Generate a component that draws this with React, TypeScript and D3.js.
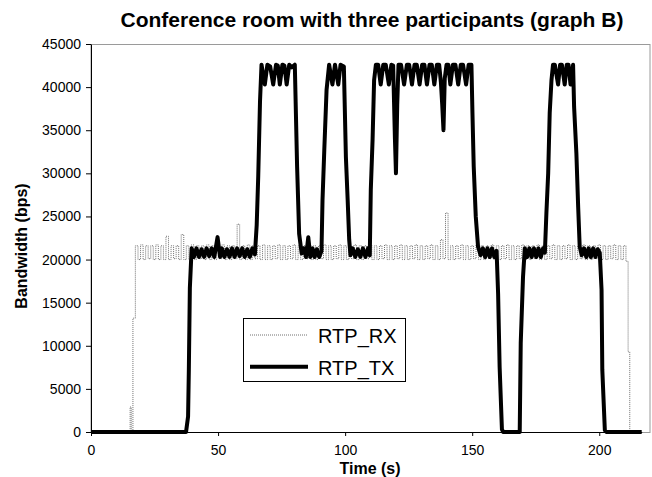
import React, { useEffect, useRef } from 'react';
import * as d3 from 'd3';

const W = 652;
const H = 477;

// RTP_TX samples: [time (s), bandwidth (bps)]
const txPoints: [number, number][] = [
  [0, 0], [37.4, 0], [38.2, 1800], [38.5, 7200], [38.9, 16700], [39.6, 21300],
  [40.5, 20300], [41.5, 21300], [42.5, 20300], [43.5, 21200], [44.5, 20300], [45.5, 21300],
  [46.5, 20400], [47.5, 21300], [48.5, 20300], [49.8, 22600], [50.8, 20300], [51.5, 21300],
  [52.5, 20300], [53.5, 21200], [54.5, 20300], [55.5, 21300], [56.5, 20300], [57.5, 21300],
  [58.5, 20400], [59.5, 21300], [60.5, 20300], [61.5, 21200], [62.5, 20300], [63.5, 21300],
  [64.5, 20600], [65.2, 24000], [65.8, 29600], [66.5, 38300], [67.1, 42600],
  [68.4, 40300], [69.4, 42600], [70.5, 42400], [71.7, 40300], [72.8, 42600], [73.5, 42500],
  [74.3, 40300], [75.3, 42600], [76.1, 42500], [77.0, 40300], [78.0, 42600], [79.0, 42300],
  [80.2, 42600], [81.1, 30800], [81.9, 23000], [82.9, 20700],
  [83.8, 21300], [84.6, 20300], [85.5, 22600], [86.3, 20300], [87.2, 21300], [88.0, 20300],
  [88.9, 21200], [89.8, 20300], [90.7, 21000],
  [91.1, 26900], [91.8, 32700], [92.7, 39700], [93.7, 42600],
  [95.0, 40300], [96.0, 42600], [97.3, 40300], [98.2, 42600], [99.5, 42400],
  [100.3, 31900], [101.0, 26900], [101.6, 22300], [102.1, 20500],
  [103, 21300], [104, 20300], [105, 21200], [106, 20300], [107, 21300], [108, 20300],
  [109, 21300], [109.7, 20500],
  [110.1, 28100], [110.8, 33900], [111.4, 40800], [112.1, 42600],
  [113.0, 42600], [114.0, 40300], [115.0, 42600], [116.0, 42600], [117.2, 40300], [118.2, 42600],
  [118.9, 42500], [119.6, 34000], [120.0, 30000], [120.5, 38000], [121.0, 42600], [122.0, 42600],
  [123.2, 40300], [124.3, 42600], [125.2, 42600], [126.3, 40300], [127.3, 42600], [128.2, 42600],
  [129.3, 40300], [130.3, 42600], [131.2, 42600], [132.2, 40300], [133.2, 42600], [134.1, 42600],
  [135.1, 40300], [136.1, 42600], [137.0, 42600], [137.7, 40500], [138.2, 38000], [138.7, 35000],
  [139.2, 41000], [139.9, 42600], [140.6, 42600], [141.4, 40300], [142.4, 42600], [143.4, 42600],
  [144.5, 40300], [145.5, 42600], [146.4, 42600], [147.6, 40300], [148.6, 42600], [149.7, 42600],
  [150.1, 37000], [150.6, 30800], [151.4, 25000], [152.3, 21500], [153.3, 20500],
  [154.2, 21300], [155.1, 20300], [156.0, 21300], [156.9, 20300], [157.8, 21300], [158.7, 20300],
  [159.6, 21000], [160.2, 16000], [160.8, 7500], [161.7, 300], [162.2, 0],
  [168.7, 0], [169.1, 10300], [170.0, 18000], [170.7, 21300],
  [171.6, 20300], [172.5, 21300], [173.4, 20300], [174.3, 21300], [175.2, 20300], [176.1, 21300],
  [177.0, 20300], [177.9, 21300], [178.6, 20800],
  [179.2, 25400], [179.9, 30000], [180.5, 37000], [181.2, 40800], [181.8, 42600],
  [182.5, 42600], [183.8, 40300], [184.6, 42600], [185.3, 42600], [186.4, 40300], [187.2, 42600],
  [187.9, 42600], [188.7, 40300], [189.7, 42600],
  [190.1, 37700], [191.0, 32300], [191.7, 26100], [192.3, 21500], [193.1, 20500],
  [194.0, 21300], [194.9, 20300], [195.8, 21300], [196.7, 20300], [197.6, 21300], [198.5, 20300],
  [199.4, 21200], [200.2, 20800],
  [200.9, 16500], [201.2, 7200], [202.2, 200], [202.8, 0], [216.7, 0],
];

// RTP_RX: ramp-up before the 1 s samples start
const rxHead: [number, number][] = [
  [0, 0], [15.2, 0], [15.6, 2900], [16.1, 0], [16.9, 13200],
];

// RTP_RX one sample per second, from t = 18 s
const rxBandStart = 18;
const rxBand: number[] = [
  21600, 20000, 21700, 20000, 21600, 20100, 21600, 20000, 21700, 20000,
  21600, 20000, 22700, 20000, 21600, 20100, 21600, 20000, 22900, 20000,
  21600, 20000, 21700, 20000, 21600, 20100, 21600, 20000, 21700, 20000,
  21600, 20000, 21600, 20100, 21700, 20000, 21600, 20000, 21600, 20100,
  24100, 20000, 21600, 20000, 21700, 20000, 21600, 20100, 21600, 20000,
  21700, 20000, 21600, 20000, 21600, 20100, 21700, 20000, 21600, 20000,
  21600, 20100, 21700, 20000, 21600, 20000, 21600, 20100, 21700, 20000,
  21600, 20000, 21600, 20100, 21700, 20000, 21600, 20000, 21600, 20100,
  21700, 20000, 21600, 20000, 21600, 20100, 21700, 20000, 21600, 20000,
  21600, 20100, 21700, 20000, 21600, 20000, 21600, 20100, 21700, 20000,
  21600, 20000, 21600, 20100, 21700, 20000, 21600, 20000, 21600, 20100,
  21700, 20000, 21600, 20000, 21600, 20100, 21700, 20000, 21600, 20000,
  22300, 20100, 25400, 20000, 21600, 20000, 21600, 20100, 21700, 20000,
  21600, 20000, 21600, 20100, 21700, 20000, 21600, 20000, 21600, 20100,
  21700, 20000, 21600, 20000, 21600, 20100, 21700, 20000, 21600, 20000,
  21600, 20100, 21700, 20000, 21600, 20000, 21600, 20100, 21700, 20000,
  21600, 20000, 21600, 20100, 21700, 20000, 21600, 20000, 21600, 20100,
  21700, 20000, 21600, 20000, 21600, 20100, 21700, 20000, 21600, 20000,
  21600, 20100, 21700, 20000, 21600, 20000, 21600, 20100, 21700, 20000,
  21600, 20000, 21600,
];

// RTP_RX drop at the end
const rxTail: [number, number][] = [
  [211, 19800], [211.7, 9300], [212.3, 0], [216.7, 0],
];

const xTicks = [0, 50, 100, 150, 200];
const yTicks = [0, 5000, 10000, 15000, 20000, 25000, 30000, 35000, 40000, 45000];
const seriesNames = ['RTP_RX', 'RTP_TX'];

const FONT = 'Arial, "Liberation Sans", sans-serif';

export default function App() {
  const ref = useRef<SVGSVGElement>(null);

  useEffect(() => {
    const svg = d3.select(ref.current);
    svg.selectAll('*').remove();

    const left = 91, right = 641.7, top = 44, bottom = 432;

    const x = d3.scaleLinear().domain([0, 216.7]).range([left, right]);
    const y = d3.scaleLinear().domain([0, 45000]).range([bottom, top]);

    const rxPoints: [number, number][] = [
      ...rxHead,
      ...rxBand.map((v, i) => [rxBandStart + i, v] as [number, number]),
      ...rxTail,
    ];

    svg.append('rect').attr('width', W).attr('height', H).attr('fill', '#fff');

    // plot area border (gray) - right edge sits a little past the axis end
    svg.append('rect')
      .attr('x', left).attr('y', top + 0.5)
      .attr('width', 650 - left).attr('height', bottom - top)
      .attr('fill', 'none').attr('stroke', '#9a9a9a').attr('stroke-width', 1);

    const line = d3.line<[number, number]>()
      .x(d => x(d[0]))
      .y(d => y(d[1]));

    // RX is drawn with steps so the fast alternation reads as a dotted band
    const stepLine = d3.line<[number, number]>()
      .x(d => x(d[0]))
      .y(d => y(d[1]))
      .curve(d3.curveStep);

    svg.append('path')
      .attr('d', stepLine(rxPoints))
      .attr('fill', 'none')
      .attr('stroke', '#707070')
      .attr('stroke-width', 1)
      .attr('stroke-dasharray', '1,1');

    svg.append('path')
      .attr('d', line(txPoints))
      .attr('fill', 'none')
      .attr('stroke', '#000')
      .attr('stroke-width', 4)
      .attr('stroke-linejoin', 'round');

    // axes
    const xAxis = d3.axisBottom(x).tickValues(xTicks).tickSize(4).tickSizeOuter(0).tickPadding(9);
    const gx = svg.append('g').attr('transform', `translate(0,${bottom})`).call(xAxis);
    gx.select('.domain').attr('stroke', '#000');
    gx.selectAll('text').attr('font-family', FONT).attr('font-size', 14).attr('fill', '#000');

    const yAxis = d3.axisLeft(y).tickValues(yTicks).tickSize(5).tickSizeOuter(0).tickPadding(5)
      .tickFormat(d3.format('d'));
    const gy = svg.append('g').attr('transform', `translate(${left},0)`).call(yAxis);
    gy.select('.domain').attr('stroke', '#000');
    gy.selectAll('text').attr('font-family', FONT).attr('font-size', 14).attr('fill', '#000');

    // titles
    svg.append('text')
      .attr('x', 372).attr('y', 27)
      .attr('text-anchor', 'middle')
      .attr('font-family', FONT).attr('font-size', 21).attr('font-weight', 'bold')
      .text('Conference room with three participants (graph B)');

    svg.append('text')
      .attr('x', 370).attr('y', 474)
      .attr('text-anchor', 'middle')
      .attr('font-family', FONT).attr('font-size', 16).attr('font-weight', 'bold')
      .text('Time (s)');

    svg.append('text')
      .attr('transform', 'translate(27,246) rotate(-90)')
      .attr('text-anchor', 'middle')
      .attr('font-family', FONT).attr('font-size', 16).attr('font-weight', 'bold')
      .text('Bandwidth (bps)');

    // legend
    const lg = svg.append('g');
    lg.append('rect')
      .attr('x', 243.5).attr('y', 318.5).attr('width', 162).attr('height', 63)
      .attr('fill', '#fff').attr('stroke', '#000').attr('stroke-width', 1);
    seriesNames.forEach((name, i) => {
      const ly = 335 + i * 31.7;
      lg.append('line')
        .attr('x1', 250).attr('x2', 308).attr('y1', ly).attr('y2', ly)
        .attr('stroke', i === 0 ? '#707070' : '#000')
        .attr('stroke-width', i === 0 ? 1 : 4)
        .attr('stroke-dasharray', i === 0 ? '1,1' : null);
      lg.append('text')
        .attr('x', 318).attr('y', ly + 8)
        .attr('font-family', FONT).attr('font-size', 20)
        .text(name);
    });
  }, []);

  return (
    <svg ref={ref} width={W} height={H}
      style={{ position: 'absolute', left: 0, top: 0, display: 'block' }} />
  );
}
